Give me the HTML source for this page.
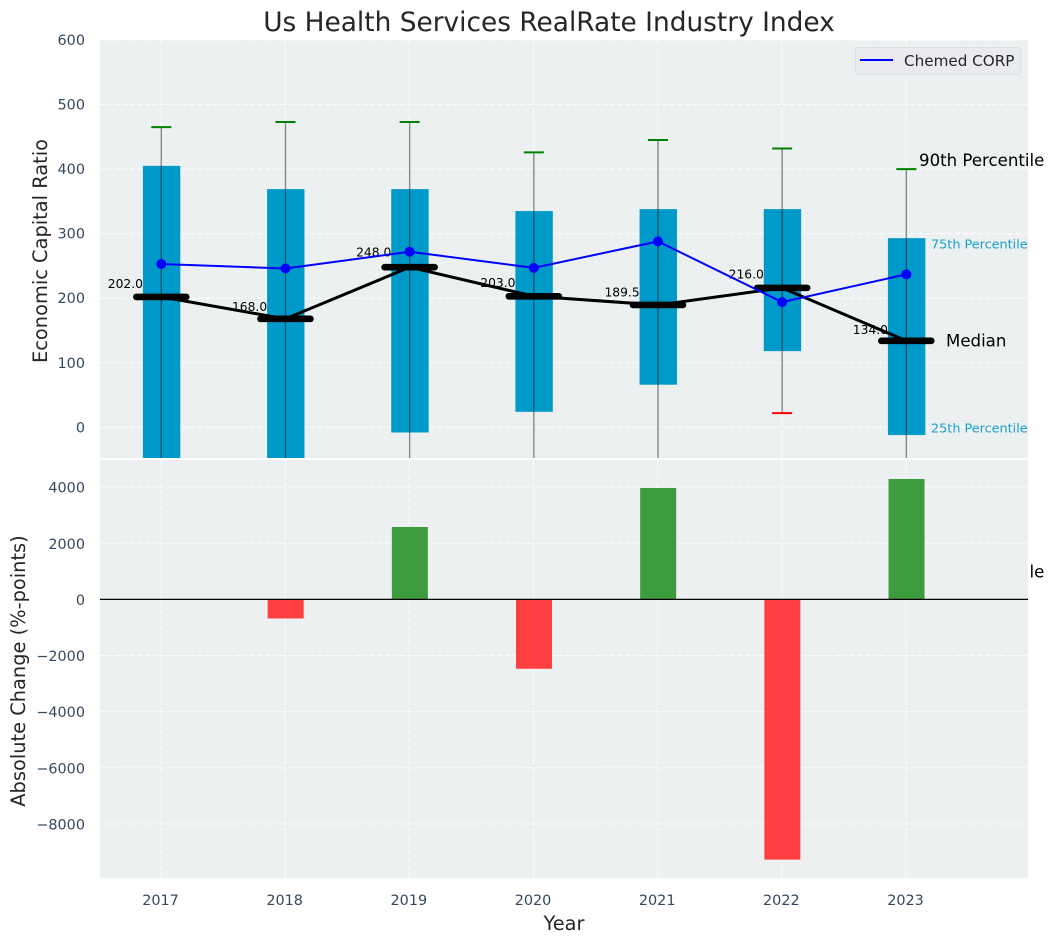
<!DOCTYPE html>
<html lang="en">
<head>
<meta charset="utf-8">
<title>Us Health Services RealRate Industry Index</title>
<style>
html,body{margin:0;padding:0;background:#fff;width:1054px;height:942px;overflow:hidden}
svg{display:block;font-family:"DejaVu Sans","Liberation Sans",sans-serif}
</style>
</head>
<body>
<svg id="chart" xmlns="http://www.w3.org/2000/svg" width="1054" height="942" viewBox="0 0 1054 942"></svg>
<script>
const years = [2017, 2018, 2019, 2020, 2021, 2022, 2023];
const q75 = [405, 369, 369, 335, 338, 338, 293];
const q25 = [-75, -70, -8, 24, 66, 118, -12];
const p90 = [465, 473, 473, 426, 445, 432, 400];
const p10 = [-160, -150, -120, -100, -90, 22, -225];
const medians = [202, 168, 248, 203, 189.5, 216, 134];
const company = [253, 246, 272, 247, 288, 194, 237];
const changes = [0, -680, 2580, -2470, 3970, -9270, 4290];
const topTicks = [0, 100, 200, 300, 400, 500, 600];
const bottomTicks = [-8000, -6000, -4000, -2000, 0, 2000, 4000];

const svg = document.getElementById('chart');
const NS = 'http://www.w3.org/2000/svg';
const plotLeft = 100, plotRight = 1028;
const topPanelTop = 40, topPanelBottom = 458;
const bottomPanelTop = 460, bottomPanelBottom = 878;

function xScale(year) { return 161 + (year - 2017) * 124.17; }
function yTop(v) { return 427.3 - v * 0.6455; }
function yBottom(v) { return 599.4 - v * 0.02807; }

function make(tag, attrs, parent, text) {
  const el = document.createElementNS(NS, tag);
  for (const k in attrs) el.setAttribute(k, attrs[k]);
  if (text !== undefined) el.textContent = text;
  (parent || svg).appendChild(el);
  return el;
}
function fmtTick(v) { return v < 0 ? '\u2212' + Math.abs(v) : String(v); }

const defs = make('defs', {});
const clip = make('clipPath', { id: 'top-clip' }, defs);
make('rect', { x: plotLeft, y: topPanelTop, width: plotRight - plotLeft, height: topPanelBottom - topPanelTop }, clip);

/* top panel background and grid */
const topBg = make('rect', { x: plotLeft, y: topPanelTop, width: plotRight - plotLeft, height: topPanelBottom - topPanelTop, fill: '#ecf0f1' });



const gridStyle = { stroke: '#ffffff', 'stroke-width': 1.1, 'stroke-dasharray': '5 2.5', 'stroke-opacity': 0.85 };
topTicks.forEach(function (t) {
  const y = yTop(t);
  const g = make('line', Object.assign({ x1: plotLeft, x2: plotRight, y1: y, y2: y }, gridStyle));
  
  
  const lab = make('text', { x: 85, y: y + 5, 'text-anchor': 'end', 'font-size': 14.4, fill: '#34495e' }, svg, String(t));
  
  
});
years.forEach(function (yr) {
  const x = xScale(yr);
  const g = make('line', Object.assign({ x1: x, x2: x, y1: topPanelTop, y2: topPanelBottom }, gridStyle));
  
  
});

const topLayer = make('g', { 'clip-path': 'url(#top-clip)' });



/* boxes */
years.forEach(function (yr, i) {
  const x = xScale(yr);
  const top = yTop(q75[i]), bot = yTop(q25[i]);
  const box = make('rect', { x: x - 18.1, y: top, width: 37.4, height: bot - top, fill: '#009aca' }, topLayer);
  
  
});

/* whiskers and caps */
years.forEach(function (yr, i) {
  const x = xScale(yr);
  const w = make('line', { x1: x + 0.3, x2: x + 0.3, y1: yTop(p90[i]), y2: yTop(p10[i]), stroke: '#000', 'stroke-opacity': 0.45, 'stroke-width': 1.4 }, topLayer);
  
  
  const capTop = make('line', { x1: x - 9.7, x2: x + 10.3, y1: yTop(p90[i]), y2: yTop(p90[i]), stroke: '#008000', 'stroke-width': 2 }, topLayer);
  
  
  const capBot = make('line', { x1: x - 9.7, x2: x + 10.3, y1: yTop(p10[i]), y2: yTop(p10[i]), stroke: '#ff0000', 'stroke-width': 2 }, topLayer);
  
  
});

/* value text sits just above 1.05 times the median */
years.forEach(function (yr, i) {
  const t = make('text', { x: xScale(yr) - 18, y: yTop(medians[i] * 1.05) - 2.5, 'text-anchor': 'end', 'font-size': 12.3, fill: '#000' }, topLayer, medians[i].toFixed(1));
  
  
});

/* median connecting line */
const medianLine = make('polyline', {
  points: years.map(function (yr, i) { return (xScale(yr) + 0.3) + ',' + yTop(medians[i]); }).join(' '),
  fill: 'none', stroke: '#000', 'stroke-width': 3
}, topLayer);



years.forEach(function (yr, i) {
  const x = xScale(yr) + 0.3, y = yTop(medians[i]);
  const m = make('line', { x1: x - 25, x2: x + 25, y1: y, y2: y, stroke: '#000', 'stroke-width': 6.6, 'stroke-linecap': 'round' }, topLayer);
  
  
});

/* company series */
const companyLine = make('polyline', {
  points: years.map(function (yr, i) { return (xScale(yr) + 0.3) + ',' + yTop(company[i]); }).join(' '),
  fill: 'none', stroke: '#0000ff', 'stroke-width': 2
}, topLayer);


years.forEach(function (yr, i) {
  const c = make('circle', { cx: xScale(yr) + 0.3, cy: yTop(company[i]), r: 5, fill: '#0000ff' }, topLayer);
  
  
});

/* annotations beside the final year */
const lastYear = years.length - 1;
const lastX = xScale(years[lastYear]);

const p90Label = make('text', { x: lastX + 13, y: yTop(p90[lastYear]) - 3, 'font-size': 16.6, fill: '#000' }, svg, '90th Percentile');



const p10Label = make('text', { x: lastX + 13, y: yTop(p10[lastYear]) + 5, 'font-size': 16.6, fill: '#000' }, svg, '10th Percentile');



const medLabel = make('text', { x: lastX + 40, y: yTop(medians[lastYear]) + 5.5, 'font-size': 16.6, fill: '#000' }, svg, 'Median');



const q75Label = make('text', { x: lastX + 25, y: yTop(q75[lastYear]) + 10.5, 'font-size': 12.8, fill: '#199fcd' }, svg, '75th Percentile');



const q25Label = make('text', { x: lastX + 25, y: yTop(q25[lastYear]) - 2.5, 'font-size': 12.8, fill: '#199fcd' }, svg, '25th Percentile');



/* legend */
const legend = make('g', {});


const legendBox = make('rect', { x: 855.5, y: 47.5, width: 165.5, height: 27, rx: 3, fill: '#e9ebf0', stroke: '#dcdfe2', 'stroke-width': 1 }, legend);


const legendLine = make('line', { x1: 860, x2: 893, y1: 60, y2: 60, stroke: '#0000ff', 'stroke-width': 2 }, legend);


const legendText = make('text', { x: 904, y: 66, 'font-size': 15.2, fill: '#262626' }, legend, 'Chemed CORP');



/* white gap and bottom panel: covers the text that falls under it */
const gap = make('rect', { x: plotLeft, y: topPanelBottom, width: plotRight - plotLeft, height: bottomPanelTop - topPanelBottom, fill: '#ffffff' });


const botBg = make('rect', { x: plotLeft, y: bottomPanelTop, width: plotRight - plotLeft, height: bottomPanelBottom - bottomPanelTop, fill: '#ecf0f1' });



bottomTicks.forEach(function (t) {
  const y = yBottom(t);
  const g = make('line', Object.assign({ x1: plotLeft, x2: plotRight, y1: y, y2: y }, gridStyle));
  
  
  const lab = make('text', { x: 85, y: y + 5.5, 'text-anchor': 'end', 'font-size': 14.4, fill: '#34495e' }, svg, fmtTick(t));
  
  
});
years.forEach(function (yr) {
  const x = xScale(yr);
  const g = make('line', Object.assign({ x1: x, x2: x, y1: bottomPanelTop, y2: bottomPanelBottom }, gridStyle));
  
  
  const lab = make('text', { x: x - 0.5, y: 905, 'text-anchor': 'middle', 'font-size': 14.4, fill: '#34495e' }, svg, String(yr));
  
  
});

years.forEach(function (yr, i) {
  const v = changes[i];
  const y0 = yBottom(0), y1 = yBottom(v);
  const b = make('rect', {
    x: xScale(yr) - 17.5, y: Math.min(y0, y1), width: 36, height: Math.abs(y1 - y0),
    fill: v >= 0 ? '#3c9c3e' : '#ff3f40'
  });
  
  
});

const zeroLine = make('line', { x1: plotLeft, x2: plotRight, y1: yBottom(0), y2: yBottom(0), stroke: '#000', 'stroke-width': 1.2 });



/* titles */
const title = make('text', { x: 549, y: 31, 'text-anchor': 'middle', 'font-size': 26.4, fill: '#262626' }, svg, 'Us Health Services RealRate Industry Index');



const yTitleTop = make('text', { transform: 'translate(47,251) rotate(-90)', 'text-anchor': 'middle', 'font-size': 19.4, fill: '#262626' }, svg, 'Economic Capital Ratio');



const yTitleBottom = make('text', { transform: 'translate(25,671) rotate(-90)', 'text-anchor': 'middle', 'font-size': 19.4, fill: '#262626' }, svg, 'Absolute Change (%-points)');



const xTitle = make('text', { x: 564, y: 930, 'text-anchor': 'middle', 'font-size': 19.4, fill: '#262626' }, svg, 'Year');


</script>
</body>
</html>
